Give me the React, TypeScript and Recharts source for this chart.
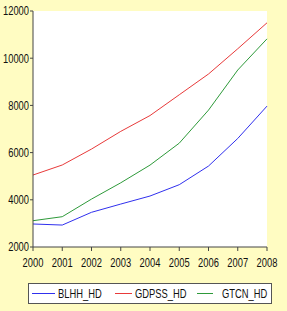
import { CartesianGrid, Legend, Line, LineChart, XAxis, YAxis } from 'recharts'

const years = [2000, 2001, 2002, 2003, 2004, 2005, 2006, 2007, 2008]
const blhh = [2975, 2930, 3470, 3820, 4160, 4640, 5430, 6600, 7970]
const gdpss = [5050, 5475, 6150, 6900, 7570, 8450, 9330, 10400, 11500]
const gtcn = [3114, 3284, 4030, 4720, 5470, 6400, 7800, 9500, 10820]
const yTicks = [2000, 4000, 6000, 8000, 10000, 12000]

const series = [
  { key: 'BLHH_HD', color: '#3030ee' },
  { key: 'GDPSS_HD', color: '#e83a3a' },
  { key: 'GTCN_HD', color: '#2e9a3a' },
]

const chartData = years.map((y, i) => ({
  year: y,
  BLHH_HD: blhh[i],
  GDPSS_HD: gdpss[i],
  GTCN_HD: gtcn[i],
}))

const font = '"Liberation Sans", Arial, sans-serif'
const squeeze = 0.78

// narrow-looking tick labels (the original uses a condensed face)
function XTick(props: any) {
  const { x, y, payload } = props
  return (
    <g transform={`translate(${x},${y})`}>
      <text transform={`scale(${squeeze},1)`} textAnchor="middle" dy={14} fontSize={12} fill="#111" fontFamily={font}>
        {payload.value}
      </text>
    </g>
  )
}

function YTick(props: any) {
  const { x, y, payload } = props
  return (
    <g transform={`translate(${x + 1},${y})`}>
      <text transform={`scale(${squeeze},1)`} textAnchor="end" dy={4.3} fontSize={12} fill="#111" fontFamily={font}>
        {payload.value}
      </text>
    </g>
  )
}

const legendPos = [
  { line: [4, 27], text: 30 },
  { line: [87, 104], text: 107 },
  { line: [169, 185], text: 194 },
]

function LegendBox() {
  return (
    <svg width={244} height={21} style={{ display: 'block' }}>
      <rect x={0.5} y={0.5} width={243} height={20} fill="#fff" stroke="#555" />
      {series.map((s, i) => (
        <g key={s.key}>
          <line x1={legendPos[i].line[0]} x2={legendPos[i].line[1]} y1={10.5} y2={10.5} stroke={s.color} />
          <text
            transform={`translate(${legendPos[i].text},15) scale(${squeeze},1)`}
            fontSize={12}
            fill="#111"
            fontFamily={font}
          >
            {s.key}
          </text>
        </g>
      ))}
    </svg>
  )
}

export default function App() {
  return (
    <div style={{ position: 'fixed', top: 0, left: 0, width: 287, height: 311, background: '#fffcc2' }}>
      <LineChart
        width={287}
        height={311}
        data={chartData}
        margin={{ top: 11, right: 20, left: 0, bottom: 7 }}
        style={{ fontFamily: font }}
      >
        <CartesianGrid horizontal={false} vertical={false} fill="#ffffff" />
        <XAxis
          dataKey="year"
          type="number"
          domain={[2000, 2008]}
          ticks={years}
          height={36}
          tickSize={4}
          tick={<XTick />}
          stroke="#444"
          interval={0}
        />
        <XAxis xAxisId="top" orientation="top" dataKey="year" type="number" domain={[2000, 2008]} tick={false} tickLine={false} height={0} stroke="#444" />
        <YAxis
          domain={[2000, 12000]}
          ticks={yTicks}
          width={33}
          tickSize={3}
          tick={<YTick />}
          stroke="#444"
          interval={0}
        />
        <YAxis yAxisId="right" orientation="right" domain={[2000, 12000]} tick={false} tickLine={false} width={0} stroke="#444" />
        {series.map((s) => (
          <Line
            key={s.key}
            dataKey={s.key}
            stroke={s.color}
            strokeWidth={1}
            dot={false}
            type="linear"
            isAnimationActive={false}
          />
        ))}
        <Legend
          verticalAlign="bottom"
          content={<LegendBox />}
          wrapperStyle={{ left: 28, width: 244 }}
        />
      </LineChart>
    </div>
  )
}
